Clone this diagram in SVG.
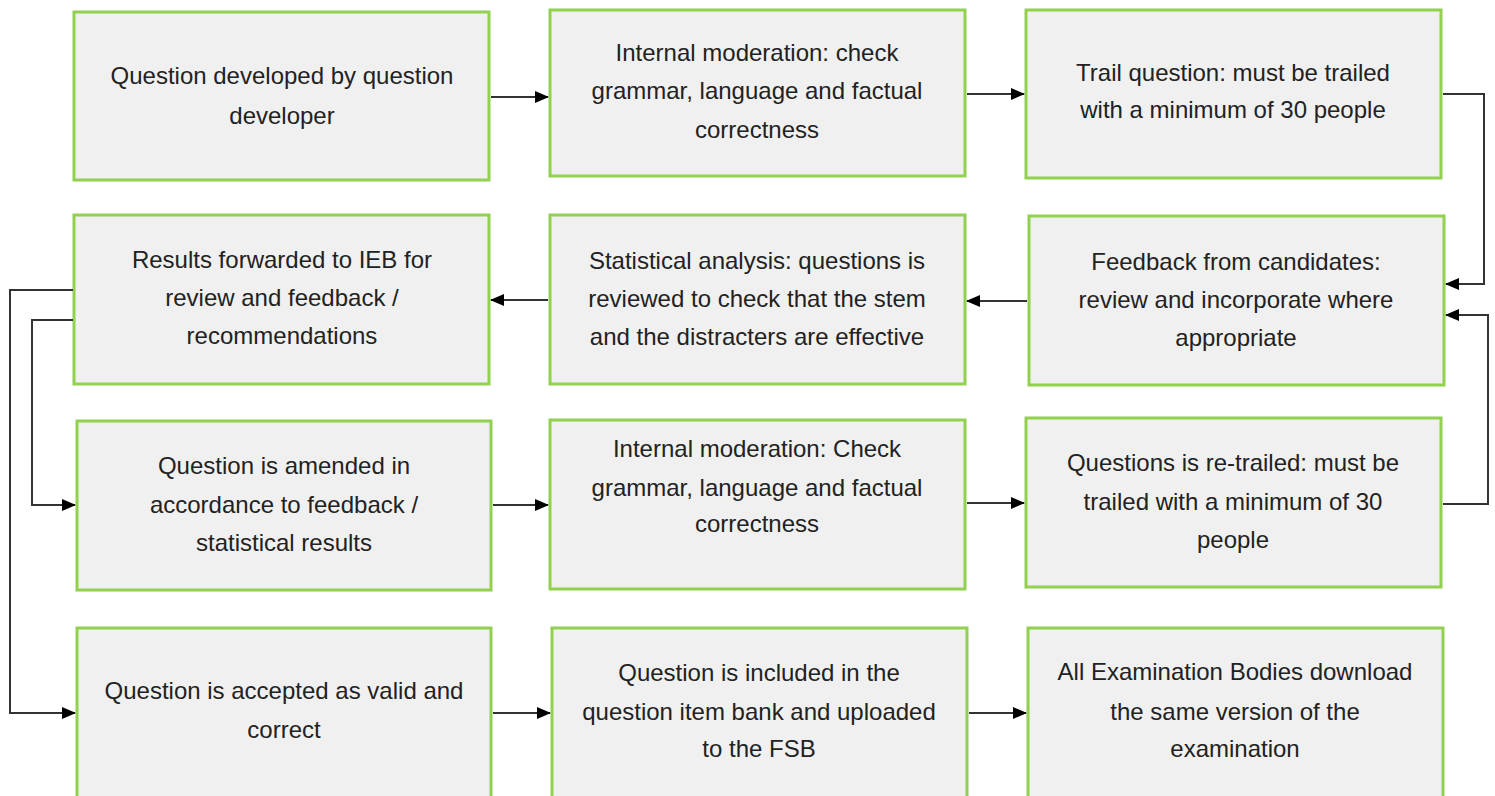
<svg xmlns="http://www.w3.org/2000/svg" width="1495" height="796" viewBox="0 0 1495 796">
<style>
.box{fill:#f0f0f0;stroke:#92d050;stroke-width:3}
.t{font-family:"Liberation Sans",Arial,sans-serif;font-size:24px;fill:#222;text-anchor:middle}
.c{fill:none;stroke:#333;stroke-width:2}
</style>
<defs>
<marker id="ah" markerWidth="14" markerHeight="12" refX="13" refY="6" orient="auto" markerUnits="userSpaceOnUse">
<path d="M0,0 L14,6 L0,12 Z" fill="#000"/>
</marker>
</defs>
<rect width="1495" height="796" fill="#fff"/>
<g id="n1"><rect class="box" x="74" y="12" width="415" height="168"/>
<text class="t" x="282" y="84">Question developed by question</text><text class="t" x="282" y="124">developer</text></g>
<g id="n2"><rect class="box" x="550" y="10" width="415" height="166"/>
<text class="t" x="757" y="61">Internal moderation: check</text><text class="t" x="757" y="99">grammar, language and factual</text><text class="t" x="757" y="138">correctness</text></g>
<g id="n3"><rect class="box" x="1026" y="10" width="415" height="168"/>
<text class="t" x="1233" y="81">Trail question: must be trailed</text><text class="t" x="1233" y="118">with a minimum of 30 people</text></g>
<g id="n4"><rect class="box" x="74" y="215" width="415" height="169"/>
<text class="t" x="282" y="268">Results forwarded to IEB for</text><text class="t" x="282" y="306">review and feedback /</text><text class="t" x="282" y="344">recommendations</text></g>
<g id="n5"><rect class="box" x="550" y="215" width="415" height="169"/>
<text class="t" x="757" y="269">Statistical analysis: questions is</text><text class="t" x="757" y="307">reviewed to check that the stem</text><text class="t" x="757" y="345">and the distracters are effective</text></g>
<g id="n6"><rect class="box" x="1029" y="216" width="415" height="169"/>
<text class="t" x="1236" y="270">Feedback from candidates:</text><text class="t" x="1236" y="308">review and incorporate where</text><text class="t" x="1236" y="346">appropriate</text></g>
<g id="n7"><rect class="box" x="77" y="421" width="414" height="169"/>
<text class="t" x="284" y="474">Question is amended in</text><text class="t" x="284" y="513">accordance to feedback /</text><text class="t" x="284" y="551">statistical results</text></g>
<g id="n8"><rect class="box" x="550" y="420" width="415" height="169"/>
<text class="t" x="757" y="457">Internal moderation: Check</text><text class="t" x="757" y="496">grammar, language and factual</text><text class="t" x="757" y="532">correctness</text></g>
<g id="n9"><rect class="box" x="1026" y="418" width="415" height="169"/>
<text class="t" x="1233" y="471">Questions is re-trailed: must be</text><text class="t" x="1233" y="510">trailed with a minimum of 30</text><text class="t" x="1233" y="548">people</text></g>
<g id="n10"><rect class="box" x="77" y="628" width="414" height="172"/>
<text class="t" x="284" y="699">Question is accepted as valid and</text><text class="t" x="284" y="738">correct</text></g>
<g id="n11"><rect class="box" x="552" y="628" width="415" height="172"/>
<text class="t" x="759" y="681">Question is included in the</text><text class="t" x="759" y="720">question item bank and uploaded</text><text class="t" x="759" y="757">to the FSB</text></g>
<g id="n12"><rect class="box" x="1028" y="628" width="415" height="172"/>
<text class="t" x="1235" y="680">All Examination Bodies download</text><text class="t" x="1235" y="720">the same version of the</text><text class="t" x="1235" y="757">examination</text></g>
<g id="connectors">
<path class="c" d="M491,97 H548" marker-end="url(#ah)"/>
<path class="c" d="M967,94 H1024" marker-end="url(#ah)"/>
<path class="c" d="M1443,94 H1484 V284 H1446" marker-end="url(#ah)"/>
<path class="c" d="M1443,504 H1488 V315 H1446" marker-end="url(#ah)"/>
<path class="c" d="M1027,301 H967" marker-end="url(#ah)"/>
<path class="c" d="M548,300 H491" marker-end="url(#ah)"/>
<path class="c" d="M73,320 H32 V505 H75" marker-end="url(#ah)"/>
<path class="c" d="M73,290 H10 V713 H75" marker-end="url(#ah)"/>
<path class="c" d="M493,505 H548" marker-end="url(#ah)"/>
<path class="c" d="M967,503 H1024" marker-end="url(#ah)"/>
<path class="c" d="M493,713 H550" marker-end="url(#ah)"/>
<path class="c" d="M969,713 H1026" marker-end="url(#ah)"/>
</g>
</svg>
